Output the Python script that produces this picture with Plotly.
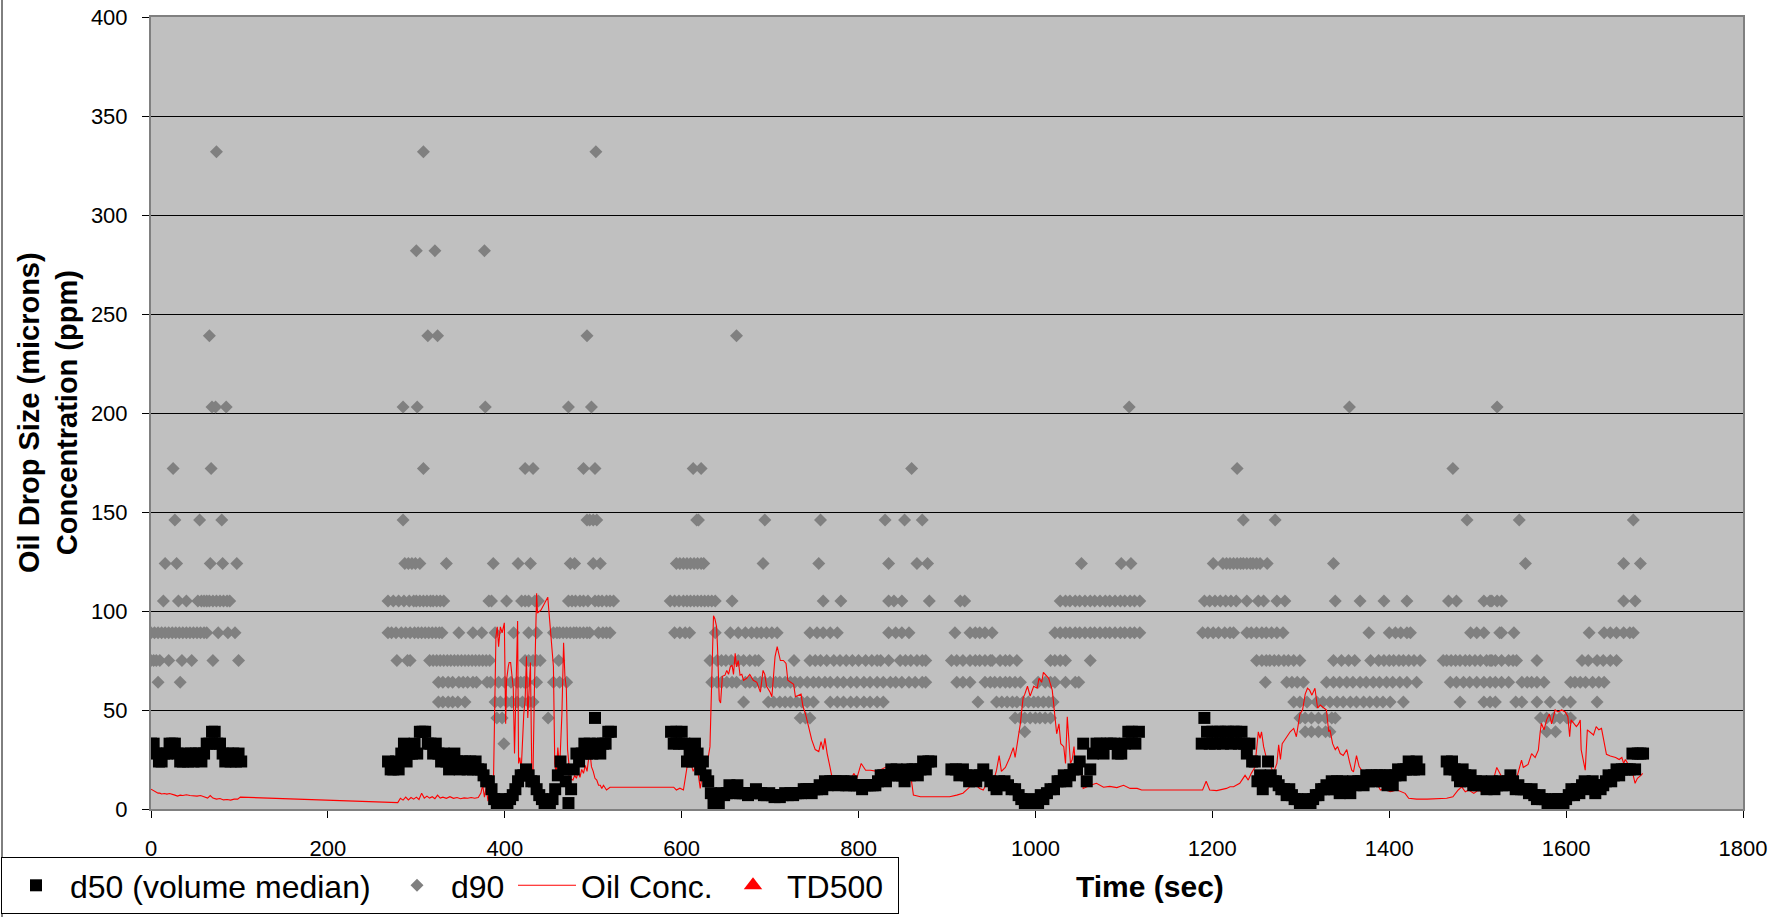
import plotly.graph_objects as go

# ---------------- d50 (volume median), microns ----------------
d50_time = [
    0, 3, 6, 9, 12, 15, 18, 21, 24, 27, 30, 33, 36, 39, 42, 45, 48, 51, 54, 57, 60, 63, 66, 69, 72, 75, 78, 81, 84, 87, 90, 93, 96, 99, 102,
    268, 271, 274, 277, 280, 283, 286, 289, 292, 295, 298, 301, 304, 307, 310, 313, 316, 319, 322, 325, 328, 331, 334, 337, 340, 343, 346, 349,
    352, 355, 358, 361, 364, 367, 370, 373, 376, 379, 382, 385, 388, 391, 394, 397, 400, 403, 406, 409, 412, 415, 418, 421, 424, 427, 430, 433,
    436, 439, 442, 445, 448, 451, 454, 457, 460, 463, 466, 469, 472, 475, 478, 481, 484, 487, 490, 493, 496, 499, 502, 505, 508, 511, 514, 517, 520,
    588, 591, 594, 597, 600, 603, 606, 609, 612, 615, 618, 621, 624, 627, 630, 633, 636, 639, 642, 645, 648, 651, 654, 657, 660, 663, 666, 669,
    672, 675, 678, 681, 684, 687, 690, 693, 696, 699, 702, 705, 708, 711, 714, 717, 720, 723, 726, 729, 732, 735, 738, 741, 744, 747, 750, 753,
    756, 759, 762, 765, 768, 771, 774, 777, 780, 783, 786, 789, 792, 795, 798, 801, 804, 807, 810, 813, 816, 819, 822, 825, 828, 831, 834, 837,
    840, 843, 846, 849, 852, 855, 858, 861, 864, 867, 870, 873, 876, 879, 882,
    905, 910, 914, 918, 922, 925, 929, 933, 937, 941, 945, 949, 953, 956, 959, 962, 965, 969, 973, 977, 981, 984, 988, 991, 994, 997, 1000,
    1003, 1006, 1009, 1013, 1017, 1021, 1025, 1028, 1032, 1035, 1039, 1043, 1047, 1050, 1054, 1058, 1062, 1065, 1069, 1073, 1077, 1081, 1085,
    1089, 1093, 1097, 1101, 1105, 1109, 1113, 1117,
    1188, 1191, 1194, 1197, 1200, 1203, 1206, 1209, 1212, 1215, 1218, 1221, 1224, 1227, 1230, 1233, 1236, 1239, 1242, 1245, 1248, 1251, 1254,
    1257, 1260, 1263, 1266, 1269, 1272, 1275, 1278, 1281, 1284, 1287, 1290, 1293, 1296, 1299, 1302, 1305, 1308, 1311, 1314, 1317, 1320, 1323,
    1326, 1329, 1332, 1335, 1338, 1341, 1344, 1347, 1350, 1353, 1356, 1359, 1362, 1365, 1368, 1371, 1374, 1377, 1380, 1383, 1386, 1389, 1392,
    1395, 1398, 1401, 1404, 1407, 1410, 1413, 1416, 1419, 1422, 1425, 1428, 1431, 1434,
    1465, 1468, 1471, 1474, 1477, 1480, 1483, 1486, 1489, 1492, 1495, 1498, 1501, 1504, 1507, 1510, 1513, 1516, 1519, 1522, 1525, 1528, 1531,
    1534, 1537, 1540, 1543, 1546, 1549, 1552, 1555, 1558, 1561, 1564, 1567, 1570, 1573, 1576, 1579, 1582, 1585, 1588, 1591, 1594, 1597, 1600,
    1603, 1606, 1609, 1612, 1615, 1618, 1621, 1624, 1627, 1630, 1633, 1636, 1639, 1642, 1645, 1648, 1651, 1654, 1657, 1660, 1663, 1666, 1669,
    1672, 1675, 1678, 1681, 1684, 1687,
]
d50_value = [
    33, 33, 28, 24, 24, 28, 28, 33, 33, 33, 28, 24, 24, 28, 24, 28, 24, 28, 28, 24, 28, 33, 33, 39, 39, 33, 33, 28, 24, 28, 24, 28, 24, 28, 24,
    24, 20, 20, 24, 20, 28, 33, 24, 28, 28, 33, 28, 39, 39, 39, 33, 33, 28, 33, 28, 24, 28, 24, 20, 24, 28, 24, 20,
    24, 24, 20, 24, 20, 24, 20, 20, 17, 14, 14, 10, 5, 3, 3, 5, 3, 3, 5, 7, 10, 14, 17, 17, 20, 17, 14, 14,
    10, 7, 5, 3, 3, 3, 5, 10, 17, 24, 20, 14, 3, 10, 20, 28, 24, 28, 33, 28, 33, 28, 46, 33, 28, 33, 33, 39, 39,
    39, 33, 39, 33, 39, 33, 24, 28, 24, 33, 28, 20, 24, 17, 14, 8, 3, 5, 3, 8, 7, 8, 12, 10, 8, 12, 8, 8,
    8, 7, 8, 8, 10, 8, 8, 7, 7, 8, 7, 6, 7, 6, 7, 8, 7, 8, 7, 8, 8, 8, 10, 10, 10, 8, 10, 10,
    12, 10, 14, 12, 14, 14, 14, 12, 14, 14, 12, 12, 14, 12, 12, 12, 10, 12, 12, 12, 12, 12, 14, 17, 17, 14, 17, 20,
    17, 20, 17, 17, 14, 20, 17, 20, 20, 17, 20, 24, 20, 24, 24,
    20, 20, 17, 20, 17, 14, 17, 14, 17, 20, 17, 14, 12, 10, 14, 12, 14, 12, 10, 10, 7, 5, 3, 3, 5, 3, 3,
    3, 7, 5, 8, 10, 10, 14, 14, 17, 14, 17, 20, 20, 24, 33, 14, 20, 28, 33, 33, 28, 33, 33,
    33, 28, 28, 33, 39, 39, 33, 39,
    33, 46, 39, 33, 39, 33, 39, 39, 33, 39, 39, 33, 39, 39, 33, 39, 33, 28, 33, 24, 24, 14, 17,
    10, 14, 24, 17, 14, 14, 12, 10, 10, 7, 10, 7, 5, 5, 3, 3, 3, 5, 3, 5, 7, 7, 10,
    10, 12, 10, 14, 10, 14, 8, 14, 10, 12, 8, 14, 12, 14, 14, 12, 17, 14, 17, 14, 17, 17, 14,
    17, 12, 17, 12, 17, 20, 17, 20, 20, 24, 20, 20, 24, 20,
    24, 20, 24, 20, 17, 14, 20, 17, 14, 17, 12, 14, 12, 14, 12, 10, 12, 14, 10, 12, 14, 12, 12,
    14, 17, 14, 10, 12, 10, 10, 10, 8, 10, 7, 5, 7, 5, 5, 3, 3, 3, 5, 5, 3, 3, 5,
    7, 10, 7, 10, 8, 12, 14, 10, 12, 14, 8, 12, 10, 12, 14, 17, 14, 17, 20, 17, 20, 20, 20,
    20, 28, 20, 28, 28, 28,
]

# ---------------- d90, microns (times read for each size level) ----------------
d90_t_332 = [74, 308, 503]
d90_t_282 = [300, 321, 377]
d90_t_239 = [66, 313, 324, 493, 662]
d90_t_203 = [69, 73, 85, 285, 301, 378, 472, 498, 1106, 1355, 1522]
d90_t_172 = [25, 68, 308, 423, 432, 489, 502, 613, 622, 860, 1228, 1472]
d90_t_146 = [27, 55, 80, 285, 493, 496, 500, 504, 617, 619, 694, 757, 830, 852, 872, 1235, 1271, 1488, 1547, 1676]
d90_t_124 = [16, 29, 67, 81, 97, 287, 291, 295, 299, 304, 334, 387, 415, 429, 474, 479, 500, 508, 594, 598, 602, 606,
             610, 614, 618, 622, 625, 692, 755, 834, 866, 878, 1052, 1097, 1108, 1201, 1212, 1216, 1220, 1224, 1228,
             1232, 1235, 1239, 1243, 1246, 1250, 1254, 1262, 1337, 1554, 1665, 1684]
d90_t_105 = [14, 31, 40, 53, 57, 60, 63, 66, 70, 74, 78, 82, 86, 89,
             268, 274, 280, 286, 292, 297, 300, 304, 308, 312, 316, 319, 323, 327, 331, 382, 385, 402, 419, 423, 427,
             434, 438, 472, 476, 480, 485, 489, 494, 502, 506, 510, 515, 519, 523,
             587, 592, 597, 602, 606, 610, 614, 618, 622, 626, 630, 634, 638, 657, 760, 780, 834, 840, 849, 880,
             915, 920, 1028, 1034, 1039, 1045, 1050, 1056, 1062, 1067, 1073, 1079, 1084, 1090, 1096, 1101, 1107, 1112, 1118,
             1191, 1197, 1203, 1209, 1215, 1221, 1227, 1239, 1252, 1258, 1273, 1282, 1339, 1367, 1394, 1420,
             1467, 1476, 1507, 1514, 1516, 1522, 1527, 1665, 1678]
d90_t_89 = [0, 4, 8, 12, 16, 20, 24, 28, 32, 36, 40, 44, 48, 52, 56, 60, 63, 76, 87, 95,
            268, 272, 277, 283, 288, 293, 298, 302, 306, 310, 314, 318, 322, 326, 329, 348, 364, 374, 389, 410, 427, 436,
            455, 459, 462, 466, 470, 474, 478, 481, 485, 489, 493, 496, 506, 511, 515, 519,
            592, 598, 604, 609, 638, 655, 664, 672, 679, 685, 690, 696, 702, 708, 745, 753, 760, 768, 776, 834, 842, 849, 857,
            909, 926, 932, 937, 943, 951, 1022, 1028, 1034, 1039, 1045, 1050, 1056, 1062, 1067, 1073, 1079, 1084, 1090,
            1096, 1101, 1107, 1112, 1118,
            1189, 1195, 1201, 1207, 1214, 1220, 1224, 1239, 1244, 1250, 1256, 1261, 1267, 1273, 1280, 1377, 1400, 1407,
            1413, 1420, 1424,
            1492, 1499, 1507, 1525, 1527, 1541, 1626, 1643, 1650, 1657, 1665, 1672, 1676]
d90_t_75 = [0, 3, 6, 10, 20, 35, 46, 70, 99,
            278, 290, 293, 315, 319, 323, 327, 331, 335, 339, 343, 347, 351, 355, 359, 363, 367, 371, 375, 379, 383,
            423, 427, 432, 436, 440, 461,
            632, 640, 645, 650, 656, 664, 670, 677, 683, 687, 727, 745, 751, 757, 764, 772, 779, 786, 793, 800, 808,
            815, 821, 825, 834, 847, 853, 859, 866, 872, 876,
            905, 911, 918, 926, 932, 937, 943, 949, 951, 960, 966, 971, 979, 1017, 1022, 1028, 1034, 1062,
            1250, 1256, 1261, 1265, 1270, 1275, 1281, 1286, 1292, 1299, 1337, 1346, 1354, 1361, 1379, 1388, 1394,
            1400, 1405, 1411, 1416, 1422, 1428, 1435,
            1461, 1465, 1470, 1475, 1480, 1486, 1491, 1497, 1503, 1510, 1514, 1516, 1520, 1527, 1535, 1540, 1544,
            1567, 1618, 1625, 1635, 1642, 1650, 1657]
d90_t_64 = [8, 33,
            325, 330, 336, 341, 348, 353, 358, 364, 368, 380, 384, 393, 400, 407, 414, 418, 422, 425, 436, 455, 462, 470,
            634, 640, 645, 651, 657, 662, 672, 677, 683, 689, 694, 700, 706, 711, 717, 723, 728, 734, 742, 749, 755,
            762, 768, 776, 783, 791, 798, 806, 813, 821, 828, 836, 842, 849, 857, 864, 872, 876,
            911, 918, 926, 943, 949, 954, 960, 966, 971, 977, 983, 1003, 1011, 1017, 1022, 1034, 1045, 1049,
            1260, 1284, 1290, 1296, 1303, 1329, 1337, 1344, 1352, 1359, 1367, 1374, 1382, 1389, 1397, 1404, 1412,
            1420, 1431,
            1469, 1476, 1484, 1491, 1499, 1507, 1514, 1520, 1527, 1535, 1550, 1556, 1561, 1567, 1575, 1605, 1610,
            1616, 1622, 1630, 1637, 1643]
d90_t_54 = [325, 330, 336, 341, 347, 355, 389, 395, 402, 408, 414, 420, 427, 432,
            670, 698, 704, 711, 717, 723, 730, 736, 742, 749, 768, 776, 783, 791, 798, 806, 813, 821, 828,
            935, 956, 962, 968, 974, 979, 986, 992, 998, 1003, 1009, 1015, 1020,
            1292, 1299, 1307, 1318, 1325, 1333, 1341, 1348, 1356, 1363, 1371, 1378, 1386, 1393, 1401, 1416, 1480,
            1507, 1514, 1520, 1543, 1550, 1567, 1582, 1597, 1605, 1635]
d90_t_46 = [391, 397, 449, 734, 740, 745, 977, 983, 988, 994, 1000, 1005, 1011, 1017,
            1299, 1305, 1312, 1320, 1328, 1335, 1339, 1571, 1578, 1586, 1593, 1601, 1605]
d90_t_39 = [988, 1305, 1312, 1320, 1328, 1333, 1578, 1588]
d90_t_33 = [399]

d90_levels = [332, 282, 239, 203, 172, 146, 124, 105, 89, 75, 64, 54, 46, 39, 33]
d90_times = [d90_t_332, d90_t_282, d90_t_239, d90_t_203, d90_t_172, d90_t_146, d90_t_124, d90_t_105,
             d90_t_89, d90_t_75, d90_t_64, d90_t_54, d90_t_46, d90_t_39, d90_t_33]

# ---------------- Oil concentration, ppm ----------------
oil_time = [
    0, 2, 4, 6, 8, 10, 12, 15, 18, 21, 24, 27, 30, 33, 36, 40, 44, 48, 52, 56, 60, 64, 67, 70, 74, 78, 82, 86, 90, 94, 98, 101,
    279, 282, 285, 288, 291, 294, 297, 300, 303, 306, 309, 312, 315, 318, 321, 324, 327, 330, 334, 338, 342, 346, 350, 354,
    358, 362, 366, 370, 373, 375, 377, 379, 381, 383, 385, 387, 390, 391.5, 393, 395, 397, 399.5, 401, 402, 404, 405, 406.6,
    408, 409.6, 411, 413, 414.5, 415.6, 417, 418.6, 420, 421.5, 423, 424.5, 426, 427.5, 429, 430.5, 432, 433.5, 435, 436,
    437, 441, 448.6, 452, 455, 456.5, 458, 460, 462, 464.6, 466.5, 468, 469.6, 471, 472.7, 474, 477, 479, 481, 483, 485,
    487, 489, 491, 493, 494.6, 496.5, 498, 500, 502, 504, 506, 508, 509.7, 511.6, 513.5, 515, 519,
    591, 594, 598, 602, 606, 609.5, 613, 617, 621, 623, 626.5, 630, 632, 634, 636, 637.6, 639.5, 640.5, 642.5, 644, 646,
    649, 651, 653, 655, 657, 658.6, 660.5, 662, 664, 666, 668, 670, 673.5, 677, 681, 685, 689, 690.5, 692, 694, 696,
    700, 702, 704, 705.6, 708, 709.6, 711.6, 715, 718, 720, 723, 726.6, 728.6, 732, 735, 737, 740, 743.5, 747, 751, 755,
    757.6, 760, 762, 764.5, 767.6, 770, 776, 783, 791, 794.6, 798, 803, 808, 813.5, 821, 825, 832, 836, 844, 851, 859,
    862, 870, 877.6, 885, 900,
    903, 911, 918, 924, 930, 937, 941, 945, 952, 956, 959, 961.5, 966, 971, 975, 977, 979, 983, 986, 988, 991, 994, 998,
    1002, 1004, 1007, 1009, 1012, 1015, 1019, 1022, 1024, 1026.6, 1028.6, 1032, 1034, 1036, 1038, 1039.6, 1041.6,
    1043.6, 1045, 1049, 1052.6, 1054, 1062, 1069, 1077, 1084, 1092, 1099.6, 1107, 1115, 1120, 1189, 1193, 1197, 1205,
    1212, 1216, 1220, 1224, 1231, 1237, 1240.6, 1244, 1248, 1252, 1254, 1255.6, 1258, 1261, 1265, 1269, 1273, 1275,
    1277, 1279, 1282, 1288, 1292, 1295, 1299, 1302, 1305, 1307.6, 1310, 1312.6, 1316, 1319, 1322, 1326, 1329, 1331.6,
    1333, 1336, 1339, 1341.6, 1344.6, 1348, 1352, 1355, 1357.6, 1359.6, 1361.5, 1363, 1366, 1369, 1372.6, 1376,
    1380.6, 1386, 1390, 1394, 1401, 1409, 1414.6, 1418, 1422, 1431, 1443, 1465,
    1472, 1478, 1482, 1486, 1490, 1495.6, 1501, 1507, 1512.6, 1516, 1521.6, 1529, 1536.6, 1544, 1549.6, 1551.6, 1557,
    1561, 1565, 1568.6, 1570.6, 1572, 1575, 1578, 1581, 1583.6, 1587.6, 1591, 1595, 1599, 1602, 1604, 1605.6, 1608.6,
    1611.6, 1614, 1616, 1617, 1621.6, 1624, 1627.6, 1631, 1634, 1637, 1640, 1642.6, 1645.6, 1650, 1656, 1660, 1663,
    1665, 1667, 1671, 1675, 1678, 1680.6, 1684.6, 1686.6,
]
oil_value = [
    10, 9.5, 9, 8.5, 8, 8, 7.6, 7.8, 7.5, 7.8, 7.2, 7, 6.5, 7, 6.8, 7.2, 6.8, 6.6, 6.5, 6.8, 6.2, 5.5, 6.8, 5.5, 5, 5.3, 4.6, 4.8, 4.5, 5, 5, 6,
    3.2, 5.4, 4.5, 6, 4.6, 5.8, 5, 6, 4.8, 8, 5.5, 6.5, 5.5, 6.2, 5.2, 7, 5.5, 6, 5.4, 6.2, 5.4, 5.8, 5.2, 5.6,
    5.4, 5.8, 5.4, 5.8, 8, 12, 6, 11, 4, 9, 4.5, 8, 87, 92, 82, 92, 89, 94, 43, 65, 72, 74, 74,
    68, 61, 28, 74, 95, 23, 26, 20, 35, 48, 55, 77, 46, 65, 74, 20, 20, 60, 95, 109,
    99, 100.5, 107, 89, 72, 23, 18, 31, 20, 48, 84, 67, 61, 30, 20, 15.5, 14.6, 17, 15.5, 19, 16,
    20, 18, 22, 19, 24.7, 28, 21.4, 19, 15.5, 14.6, 12, 12, 10.4, 12, 10.4, 9.6, 11,
    11, 9.6, 10.5, 9.6, 21, 24.6, 19, 23, 10.4, 16, 23, 26, 31.5, 65, 97.6, 96, 92, 82, 55, 53.5, 67,
    67.6, 70, 68, 71.8, 72.7, 68, 78.6, 71.8, 75, 67.6, 68, 65, 66, 68, 65, 64, 59, 65, 70, 68, 62,
    59, 56.7, 68, 77, 82, 79, 75, 75, 73.5, 65, 64, 63, 56.7, 57.5, 58, 52, 48, 41.6, 35, 30, 29,
    34, 30, 35.7, 28, 21.4, 16, 14.6, 15.5, 14.6, 18, 15.5, 23, 19.6, 19.6, 19, 20, 21.4, 19, 19, 19, 17,
    7, 6.2, 6.2, 6.2, 6.2,
    6.2, 7, 8, 10.4, 13, 10.4, 9.6, 13, 13, 19.6, 27, 19, 21, 26, 31, 26, 32.4, 43.3, 56, 58, 62, 57, 62,
    61, 66, 64, 69, 67.6, 66, 60, 46.6, 38, 43, 33, 31.5, 23, 46.6, 31.5, 23, 25,
    31.5, 23, 21, 17, 10.4, 12, 13, 11, 11.4, 10.8, 12, 10.4, 10.4, 9.6, 9.6, 14, 9.6, 9.3,
    10, 10.4, 11.2, 11.2, 13, 17, 14.6, 18, 21, 39, 35.7, 39, 31.5, 26, 23, 18, 23, 32.4,
    25, 33, 35, 39, 40.7, 36.5, 48, 50, 58, 61, 60, 57.5, 61, 51, 52.5, 51, 50, 39,
    40, 33, 30, 31.5, 28, 27, 30, 24, 19.6, 18.7, 23, 27, 21.4, 19.6, 17, 14.6,
    13, 13, 9.6, 10.4, 8.7, 9.6, 8.3, 7.9, 5.4, 5, 5, 5.4,
    6.2, 9.6, 11.2, 8.7, 9.6, 7.9, 9.6, 7.9, 10.4, 12, 21, 14.6, 13.8, 15.5, 24.7, 21, 22.5,
    28, 26, 29.7, 38.5, 43.3, 40, 45, 48, 43, 50, 49, 50, 49, 46.6, 36.5, 45, 43,
    41.6, 43, 45, 30, 19.6, 40, 38.5, 37.4, 41.6, 40, 40.7, 35, 27.6, 26.8, 26, 25, 26,
    23, 25, 22, 18.7, 13, 15.5, 17, 18,
]

# TD500 has no plotted points in the reference (legend entry only)
td500_time = [None]
td500_value = [None]

legend_names = ["d50 (volume median)", "d90", "Oil Conc.", "TD500"]
x_ticks = [0, 200, 400, 600, 800, 1000, 1200, 1400, 1600, 1800]
y_ticks = [0, 50, 100, 150, 200, 250, 300, 350, 400]

# ---------------- build figure ----------------
d90_x, d90_y = [], []
for lvl, ts in zip(d90_levels, d90_times):
    for t in ts:
        d90_x.append(t)
        d90_y.append(lvl)

FONT = "Liberation Sans, Arial, Helvetica, sans-serif"

fig = go.Figure()
fig.add_trace(go.Scatter(
    x=d90_x, y=d90_y, mode="markers", name=legend_names[1], legendrank=2, legendwidth=57,
    marker=dict(symbol="diamond", size=10, color="#808080", line=dict(width=0)),
))
fig.add_trace(go.Scatter(
    x=oil_time, y=oil_value, mode="lines", name=legend_names[2], legendrank=3, legendwidth=133,
    line=dict(color="#FF0000", width=1.1),
))
fig.add_trace(go.Scatter(
    x=d50_time, y=d50_value, mode="markers", name=legend_names[0], legendrank=1, legendwidth=308,
    marker=dict(symbol="square", size=12, color="#000000", line=dict(width=0)),
))
fig.add_trace(go.Scatter(
    x=td500_time, y=td500_value, mode="markers", name=legend_names[3], legendrank=4, legendwidth=106,
    marker=dict(symbol="triangle-up", size=18, color="#FF0000", line=dict(width=0)),
))

L, R, T, B = 151, 49, 17, 108
W, H = 1792, 917
pw, ph = W - L - R, H - T - B

def px_x(x):
    return (x - L) / pw

def px_y(y):
    return (H - B - y) / ph

fig.update_layout(
    width=W, height=H,
    margin=dict(l=L, r=R, t=T, b=B, autoexpand=False),
    paper_bgcolor="#FFFFFF",
    plot_bgcolor="#C0C0C0",
    font=dict(family=FONT, color="#000000", size=21),
    showlegend=True,
    legend=dict(
        orientation="h",
        x=px_x(1), xanchor="left",
        y=px_y(857), yanchor="top",
        bgcolor="#FFFFFF", bordercolor="#000000", borderwidth=1,
        font=dict(family=FONT, size=32, color="#000000"),
        itemwidth=58,
        traceorder="normal",
        itemsizing="trace",
    ),
    xaxis=dict(
        range=[0, 1800], tickvals=x_ticks, ticktext=[str(v) for v in x_ticks],
        showgrid=False, zeroline=False,
        showline=True, linecolor="#808080", linewidth=2, mirror=True,
        ticks="outside", ticklen=7, tickcolor="#000000", tickwidth=1,
        tickfont=dict(family=FONT, size=22, color="#000000"),
        ticklabelstandoff=12,
    ),
    yaxis=dict(
        range=[0, 400], tickvals=y_ticks, ticktext=[str(v) for v in y_ticks],
        showgrid=True, gridcolor="#000000", gridwidth=1, zeroline=False,
        showline=True, linecolor="#808080", linewidth=2, mirror=True,
        ticks="outside", ticklen=7, tickcolor="#000000", tickwidth=1,
        tickfont=dict(family=FONT, size=22, color="#000000"),
        ticklabelstandoff=10,
    ),
    annotations=[
        dict(text="<b>Time (sec)</b>", xref="paper", yref="paper",
             x=px_x(1150), y=px_y(887), xanchor="center", yanchor="middle",
             showarrow=False, font=dict(family=FONT, size=30, color="#000000")),
        dict(text="<b>Oil Drop Size (microns)</b><br><b>Concentration (ppm)</b>", xref="paper", yref="paper",
             x=px_x(48), y=0.5, xanchor="center", yanchor="middle", textangle=-90,
             showarrow=False, font=dict(family=FONT, size=29, color="#000000")),
    ],
    shapes=[
        dict(type="line", xref="paper", yref="paper", x0=px_x(2), x1=px_x(2), y0=px_y(917), y1=px_y(0),
             line=dict(color="#000000", width=1)),
    ],
)

fig.write_html(
    "out.html",
    config={"displayModeBar": False},
    post_script="document.body.style.margin='0';document.body.style.overflow='hidden';",
)
